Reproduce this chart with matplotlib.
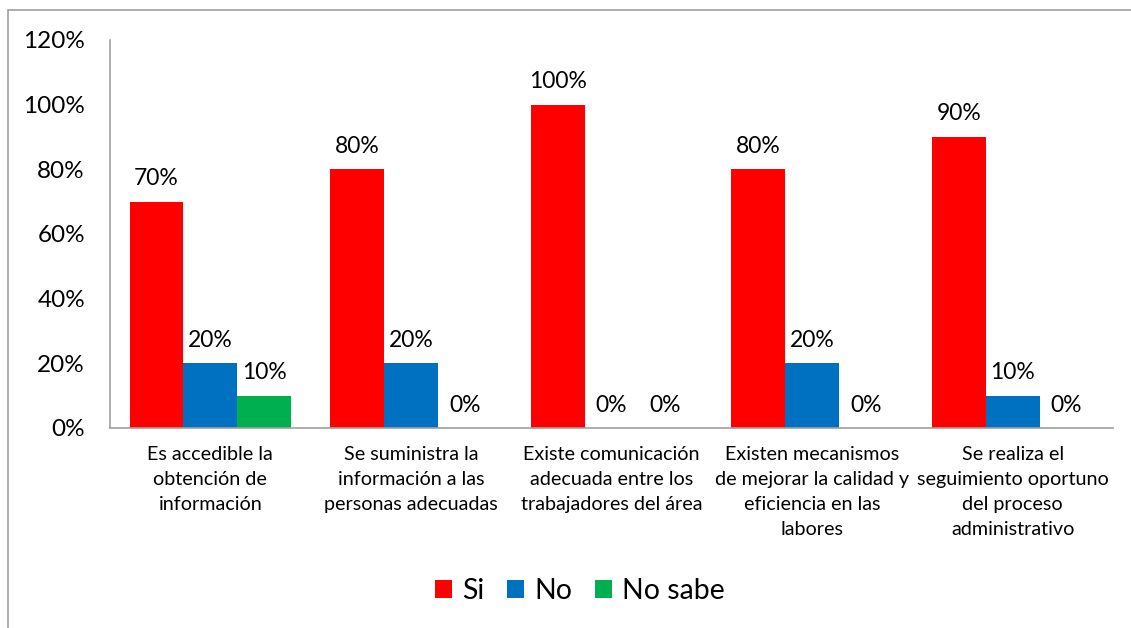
import numpy as np
import matplotlib.pyplot as plt
from matplotlib.patches import Rectangle

plt.rcParams['font.family'] = ['Lato', 'DejaVu Sans']

categorias = [
    'Es accedible la\nobtención de\ninformación',
    'Se suministra la\ninformación a las\npersonas adecuadas',
    'Existe comunicación\nadecuada entre los\ntrabajadores del área',
    'Existen mecanismos\nde mejorar la calidad y\neficiencia en las\nlabores',
    'Se realiza el\nseguimiento oportuno\ndel proceso\nadministrativo',
]
si = [70, 80, 100, 80, 90]
no = [20, 20, 0, 20, 10]
no_sabe = [10, 0, 0, 0, 0]

series = [('Si', si, '#FF0000'), ('No', no, '#0070C0'), ('No sabe', no_sabe, '#00B050')]

fig = plt.figure(figsize=(11.31, 6.28), dpi=100)
ax = fig.add_axes([110 / 1131, 1 - 428 / 628, 1003 / 1131, 388 / 628])

# thin frame around the chart area
fig.patches.append(Rectangle((8 / 1131, -0.05), 1.1, 1 - 10 / 628 + 0.05,
                             transform=fig.transFigure, fill=False,
                             edgecolor='#A0A0A0', linewidth=1.2))

x = np.arange(len(categorias))
w = 0.268
for i, (nombre, vals, color) in enumerate(series):
    pos = x + (i - 1) * w
    ax.bar(pos, vals, width=w, color=color, label=nombre)
    for px, v in zip(pos, vals):
        ax.annotate(f'{v}%', (px, v), xytext=(0, 9), textcoords='offset points',
                    ha='center', va='bottom', fontsize=16.5)

ax.set_xlim(-0.5, len(categorias) - 0.5)
ax.set_ylim(0, 120)
ax.set_yticks(range(0, 121, 20))
ax.set_yticklabels([f'{t}%' for t in range(0, 121, 20)], fontsize=17.5)
ax.set_xticks(x)
ax.set_xticklabels(categorias, fontsize=14.2, linespacing=1.58)
ax.tick_params(axis='both', length=0)
ax.tick_params(axis='y', pad=18)
ax.tick_params(axis='x', pad=13)

for s in ['top', 'right']:
    ax.spines[s].set_visible(False)
for s in ['left', 'bottom']:
    ax.spines[s].set_color('#A0A0A0')
    ax.spines[s].set_linewidth(1.2)

fig.legend(loc='center', bbox_to_anchor=(580 / 1131, 1 - 591 / 628),
           ncol=3, frameon=False, fontsize=20.5, handlelength=0.6, handleheight=0.6,
           handletextpad=0.35, columnspacing=0.8)

fig.savefig('out.png', dpi=100)
